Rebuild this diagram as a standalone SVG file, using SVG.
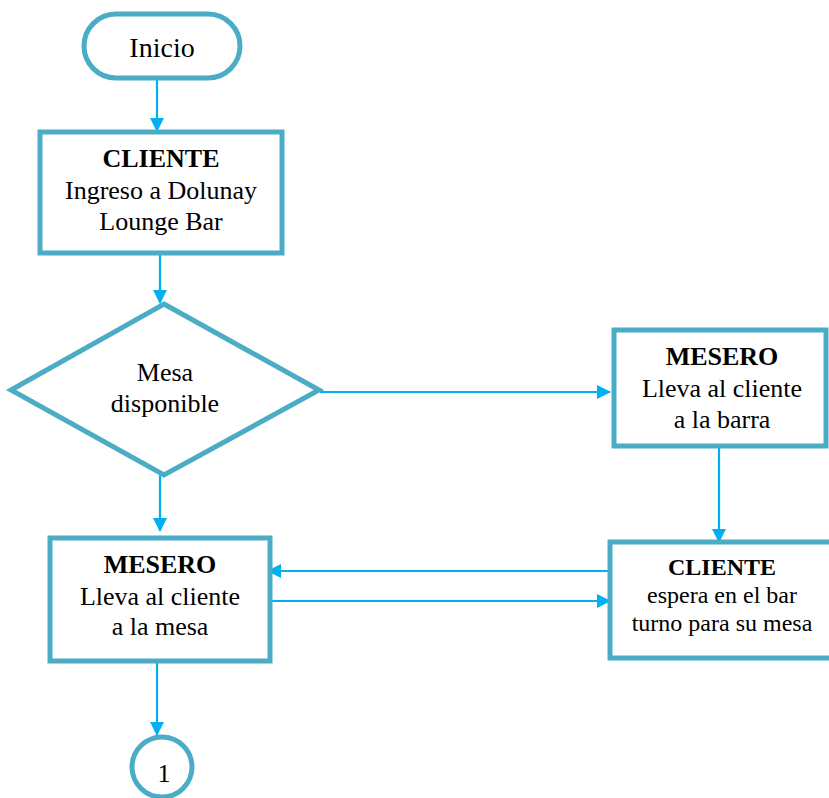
<svg xmlns="http://www.w3.org/2000/svg" width="829" height="798" viewBox="0 0 829 798">
<defs>
<marker id="ah" markerWidth="14" markerHeight="14" refX="13" refY="7" orient="auto" markerUnits="userSpaceOnUse">
<path d="M0,0 L14,7 L0,14 Z" fill="#00B0F0"/>
</marker>
<style>
.shape{fill:#fff;stroke:#4BACC6;stroke-width:5}
.con{fill:none;stroke:#00B0F0;stroke-width:2.2;marker-end:url(#ah)}
.plain{fill:none;stroke:#00B0F0;stroke-width:2.2}
text{font-family:"Liberation Serif","Times New Roman",serif;fill:#000;text-anchor:middle}
.b{font-weight:bold}
.t26{font-size:26px}
.t24{font-size:24px}
</style>
</defs>
<rect width="829" height="798" fill="#fff"/>
<g id="connectors">
<line class="con" x1="157" y1="80" x2="157" y2="131"/>
<line class="con" x1="160" y1="249" x2="160" y2="303"/>
<line class="con" x1="320" y1="392" x2="610" y2="392"/>
<line class="con" x1="160" y1="475" x2="160" y2="531"/>
<line class="con" x1="719" y1="448" x2="719" y2="542"/>
<line class="con" x1="608" y1="571" x2="268" y2="571"/>
<line class="con" x1="266" y1="601" x2="610" y2="601"/>
<line class="con" x1="157" y1="661" x2="157" y2="735"/>
</g>
<g id="inicio">
<rect class="shape" x="84" y="14" width="156" height="64" rx="32"/>
<text x="162" y="57" style="font-size:28px">Inicio</text>
</g>
<g id="cliente1">
<rect class="shape" x="40" y="132" width="242" height="121"/>
<text class="t26 b" x="161" y="167">CLIENTE</text>
<text class="t26" x="161" y="199">Ingreso a Dolunay</text>
<text class="t26" x="161" y="230">Lounge Bar</text>
</g>
<g id="decision">
<polygon class="shape" points="164,304 319,390 164,475 11,390"/>
<text class="t26" x="165" y="381">Mesa</text>
<text class="t26" x="165" y="412">disponible</text>
</g>
<g id="mesero-barra">
<rect class="shape" x="614" y="330" width="212" height="116"/>
<text class="t26 b" x="722" y="365">MESERO</text>
<text class="t26" x="722" y="397">Lleva al cliente</text>
<text class="t26" x="722" y="428">a la barra</text>
</g>
<g id="cliente-espera">
<rect class="shape" x="610" y="542" width="225" height="116"/>
<text class="t24 b" x="722" y="575">CLIENTE</text>
<text class="t24" x="722" y="603">espera en el bar</text>
<text class="t24" x="722" y="631">turno para su mesa</text>
</g>
<g id="mesero-mesa">
<rect class="shape" x="50" y="538" width="220" height="123"/>
<text class="t26 b" x="160" y="573">MESERO</text>
<text class="t26" x="160" y="605">Lleva al cliente</text>
<text class="t26" x="160" y="635">a la mesa</text>
</g>
<g id="conector-1">
<circle class="shape" cx="162" cy="767" r="30"/>
<text class="t26" x="164" y="782">1</text>
</g>
</svg>
